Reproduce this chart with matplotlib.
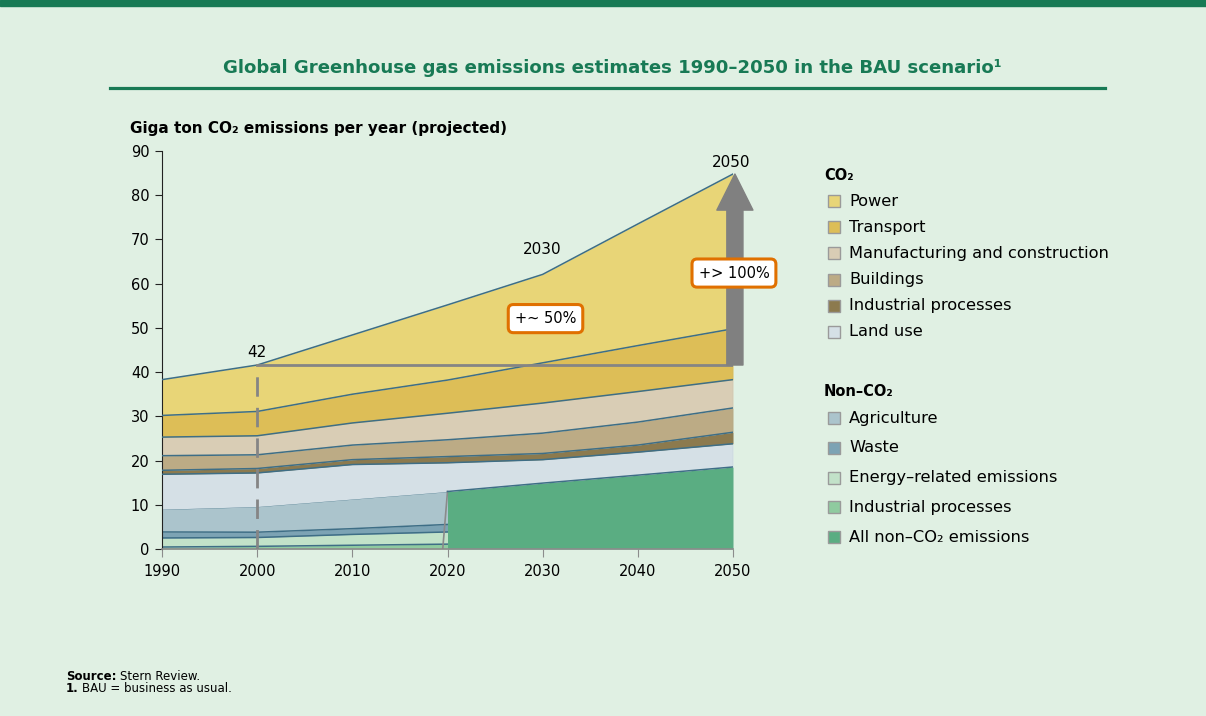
import numpy as np
import matplotlib
matplotlib.use("Agg")
import matplotlib.pyplot as plt
from matplotlib.patches import Rectangle, FancyArrowPatch

plt.rcParams["font.family"] = ["DejaVu Sans"]

# ---- data (Gt CO2e per year) ----
years = [1990, 2000, 2010, 2020, 2030, 2040, 2050]
years_nc = [1990, 2000, 2010, 2020]          # non-CO2 detail only up to 2020
years_all = [2020, 2030, 2040, 2050]         # aggregated non-CO2 afterwards

nc_industrial = [0.45, 0.6, 0.85, 1.1]
nc_energy = [2.05, 2.0, 2.45, 2.75]
nc_waste = [1.35, 1.2, 1.3, 1.7]
nc_agri = [5.15, 5.8, 6.7, 7.45]
all_nonco2 = [13.0, 14.9, 16.7, 18.55]

co2_landuse = [7.9, 7.6, 7.8, 6.5, 5.3, 5.2, 5.25]
co2_industrial = [0.9, 1.0, 1.1, 1.4, 1.4, 1.6, 2.6]
co2_buildings = [3.3, 3.1, 3.3, 3.8, 4.6, 5.2, 5.5]
co2_manufacturing = [4.2, 4.3, 5.0, 6.0, 6.8, 6.9, 6.4]
co2_transport = [4.9, 5.5, 6.5, 7.5, 9.1, 10.4, 11.5]
co2_power = [8.1, 10.5, 13.4, 17.0, 20.0, 27.5, 35.0]

co2_names = ["Power", "Transport", "Manufacturing and construction", "Buildings",
             "Industrial processes", "Land use"]
nc_names = ["Agriculture", "Waste", "Energy\u2013related emissions", "Industrial processes",
            "All non\u2013CO\u2082 emissions"]

# colours
BG = "#E0F0E3"
GREEN = "#187A55"
EDGE = "#3E6E86"
C = {"power": "#E8D577", "transport": "#DDBE57", "manuf": "#D9CDB5", "build": "#BCAB85",
     "ind": "#8C7A4E", "land": "#D5E0E6", "agri": "#ABC4CC", "waste": "#7CA3B4",
     "energy": "#C2E2C9", "ncind": "#8FCB9F", "allnc": "#5AAD82"}
co2_cols = [C["power"], C["transport"], C["manuf"], C["build"], C["ind"], C["land"]]
nc_cols = [C["agri"], C["waste"], C["energy"], C["ncind"], C["allnc"]]

W, H = 1206, 716
fig = plt.figure(figsize=(W / 100, H / 100), dpi=100, facecolor=BG)


def fx(x):
    return x / W


def fy(y):
    return 1 - y / H


# top band + title + rule
fig.patches.append(Rectangle((0, fy(6)), 1, 6 / H, transform=fig.transFigure, color=GREEN, zorder=0))
fig.text(fx(612), fy(68), "Global Greenhouse gas emissions estimates 1990\u20132050 in the BAU scenario\u00b9",
         ha="center", va="center", fontsize=13.1, fontweight="bold", color=GREEN)
fig.add_artist(plt.Line2D([fx(110), fx(1105)], [fy(88), fy(88)], color=GREEN, lw=2.3))
fig.text(fx(130), fy(128), "Giga ton CO\u2082 emissions per year (projected)", ha="left", va="center",
         fontsize=11, fontweight="bold", color="black")

ax = fig.add_axes([fx(162), fy(549), fx(733) - fx(162), fy(151) - fy(549)])
ax.set_facecolor("none")

# non-CO2 detail 1990-2020
base = np.zeros(len(years_nc))
for vals, col in zip([nc_industrial, nc_energy, nc_waste, nc_agri],
                     [C["ncind"], C["energy"], C["waste"], C["agri"]]):
    top = base + np.array(vals)
    ax.fill_between(years_nc, base, top, color=col, lw=0)
    ax.plot(years_nc, top, color=EDGE, lw=1.1)
    base = top

# aggregated non-CO2 2020-2050
ax.fill_between(years_all, 0, all_nonco2, color=C["allnc"], lw=0, zorder=2)
ax.plot([2019.5, 2020], [0, all_nonco2[0]], color="#8a8a8a", lw=1.2, zorder=3)

nc_total = np.array(list(base[:3]) + list(all_nonco2))
base = nc_total.copy()
for vals, col in zip([co2_landuse, co2_industrial, co2_buildings, co2_manufacturing, co2_transport, co2_power],
                     [C["land"], C["ind"], C["build"], C["manuf"], C["transport"], C["power"]]):
    top = base + np.array(vals)
    ax.fill_between(years, base, top, color=col, lw=0, zorder=2)
    ax.plot(years, top, color=EDGE, lw=1.1, zorder=3)
    base = top
total = base
ax.plot(years[3:], nc_total[3:], color=EDGE, lw=1.1, zorder=3)
ax.plot([2050, 2050], [0, total[-1]], color="#7f9aa8", lw=0.8, zorder=3)

# reference lines: 2000 level
lvl = total[1]
ax.plot([2000, 2000], [0, lvl], color="#858585", lw=2, ls=(0, (7, 4)), zorder=4)
ax.plot([2000, 2050], [lvl, lvl], color="#858585", lw=2, zorder=4)
arr = FancyArrowPatch((2050.2, lvl), (2050.2, total[-1]), arrowstyle="simple,head_length=1.3,head_width=1.3,tail_width=0.58",
                      mutation_scale=20, color="#808080", shrinkA=0, shrinkB=0, zorder=5, clip_on=False)
ax.add_patch(arr)

ax.text(2000, lvl + 2.9, "42", ha="center", va="center", fontsize=11)
ax.text(2030, total[4] + 5.6, "2030", ha="center", va="center", fontsize=11)
ax.text(2049.8, total[-1] + 2.6, "2050", ha="center", va="center", fontsize=11)
box = dict(boxstyle="round,pad=0.45,rounding_size=0.35", fc="white", ec="#E07000", lw=2.2)
ax.text(2030.3, 52.1, "+~ 50%", ha="center", va="center", fontsize=10.5, bbox=box, zorder=6)
ax.text(2050.1, 62.4, "+> 100%", ha="center", va="center", fontsize=10.5, bbox=box, zorder=6)

ax.set_xlim(1990, 2050)
ax.set_ylim(0, 90)
ax.set_xticks(range(1990, 2051, 10))
ax.set_yticks(range(0, 91, 10))
for s in ["top", "right"]:
    ax.spines[s].set_visible(False)
ax.spines["left"].set_color("#222222")
ax.spines["bottom"].set_color("#8c8c8c")
ax.spines["bottom"].set_linewidth(1.2)
ax.tick_params(axis="y", length=5, color="#222222", labelsize=10.5, pad=4)
ax.tick_params(axis="x", length=6, color="#8c8c8c", labelsize=10.5, pad=5)

# legend
fig.text(fx(824), fy(175), "CO\u2082", fontsize=10.5, fontweight="bold", va="center")
for i, (name, col) in enumerate(zip(co2_names, co2_cols)):
    y = 201 + i * 26.2
    fig.patches.append(Rectangle((fx(828), fy(y + 6)), 12 / W, 12 / H, transform=fig.transFigure,
                                 fc=col, ec="#9a9a9a", lw=1))
    fig.text(fx(849), fy(y), name, fontsize=11.7, va="center")
fig.text(fx(824), fy(392), "Non\u2013CO\u2082", fontsize=10.5, fontweight="bold", va="center")
for i, (name, col) in enumerate(zip(nc_names, nc_cols)):
    y = 418 + i * 29.8
    fig.patches.append(Rectangle((fx(828), fy(y + 6)), 12 / W, 12 / H, transform=fig.transFigure,
                                 fc=col, ec="#9a9a9a", lw=1))
    fig.text(fx(849), fy(y), name, fontsize=11.7, va="center")

# footer
fig.text(fx(66), fy(676), "Source:", fontsize=8.5, fontweight="bold", va="center")
fig.text(fx(120), fy(676), "Stern Review.", fontsize=8.5, va="center")
fig.text(fx(66), fy(688), "1.", fontsize=8.5, fontweight="bold", va="center")
fig.text(fx(82), fy(688), "BAU = business as usual.", fontsize=8.5, va="center")

fig.savefig("out.png", dpi=100, facecolor=BG)
